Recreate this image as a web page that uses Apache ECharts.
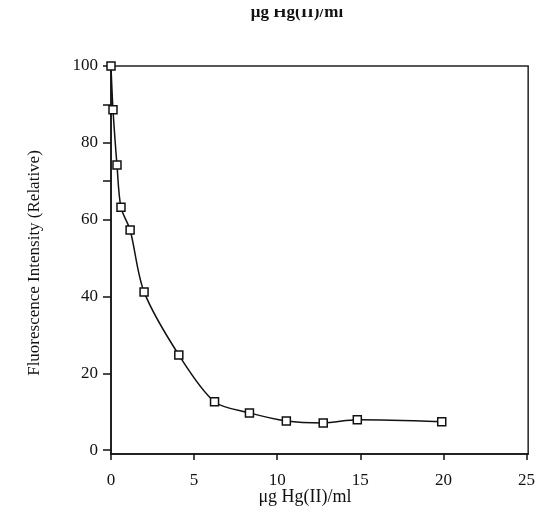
<!DOCTYPE html>
<html>
<head>
<meta charset="utf-8">
<script src="https://cdn.jsdelivr.net/npm/echarts@6/dist/echarts.min.js"></script>
<style>
html,body{margin:0;padding:0;background:#fff;}
#chart{width:538px;height:519px;}
</style>
</head>
<body>
<div id="chart"></div>
<script>
// Data
const concentration = [0, 0.12, 0.36, 0.6, 1.15, 1.99, 4.08, 6.23, 8.33, 10.55, 12.77, 14.82, 19.9];
const intensity = [100, 88.6, 74.2, 63.2, 57.3, 41.2, 24.8, 12.6, 9.7, 7.6, 7.1, 7.9, 7.4];
const xTickValues = [0, 5, 10, 15, 20, 25];
const yLabelValues = [0, 20, 40, 60, 80, 100];
const yTickValues = [0, 20, 40, 60, 70, 80, 90, 100];
const xAxisTitle = 'μg Hg(II)/ml';
const yAxisTitle = 'Fluorescence Intensity (Relative)';

const serif = '"Liberation Serif", "DejaVu Serif", serif';
const chart = echarts.init(document.getElementById('chart'), null, {renderer: 'canvas'});
const points = concentration.map((x, i) => [x, intensity[i]]);

chart.setOption({
  animation: false,
  backgroundColor: '#ffffff',
  grid: {left: 111, right: 7, top: 66, bottom: 65, show: true, borderColor: '#222', borderWidth: 1.5, backgroundColor: 'transparent'},
  xAxis: {
    type: 'value', min: 0, max: 25.1,
    axisLine: {show: true, onZero: false, lineStyle: {color: '#111', width: 1.5}},
    axisTick: {show: true, inside: false, length: 6, customValues: xTickValues, lineStyle: {color: '#111', width: 1.5}},
    axisLabel: {customValues: xTickValues, margin: 18, color: '#111', fontFamily: serif, fontSize: 17},
    splitLine: {show: false}
  },
  yAxis: {
    type: 'value', min: -1, max: 100,
    axisLine: {show: true, onZero: false, lineStyle: {color: '#111', width: 1.5}},
    axisTick: {show: true, inside: false, length: 8, customValues: yTickValues, lineStyle: {color: '#111', width: 1.5}},
    axisLabel: {customValues: yLabelValues, margin: 13, color: '#111', fontFamily: serif, fontSize: 17},
    splitLine: {show: false}
  },
  series: [{
    type: 'line',
    data: points,
    smooth: 0.3,
    symbol: 'rect',
    symbolSize: 8,
    lineStyle: {color: '#111', width: 1.5},
    itemStyle: {color: '#fff', borderColor: '#111', borderWidth: 1.5},
    z: 3
  }],
  graphic: [
    {type: 'text', x: 35, y: 263, rotation: Math.PI / 2,
     style: {text: yAxisTitle, fill: '#111', font: '17px ' + serif, textAlign: 'center', textVerticalAlign: 'middle'}},
    {type: 'text', x: 305, y: 497,
     style: {text: xAxisTitle, fill: '#111', font: '18px ' + serif, textAlign: 'center', textVerticalAlign: 'middle'}},
    {type: 'text', x: 297, y: 21, z: 1,
     style: {text: xAxisTitle, fill: '#111', font: 'bold 17px ' + serif, textAlign: 'center', textVerticalAlign: 'bottom'}},
    {type: 'rect', shape: {x: 200, y: 0, width: 200, height: 9}, z: 2,
     style: {fill: '#fff'}}
  ]
});
</script>
</body>
</html>
